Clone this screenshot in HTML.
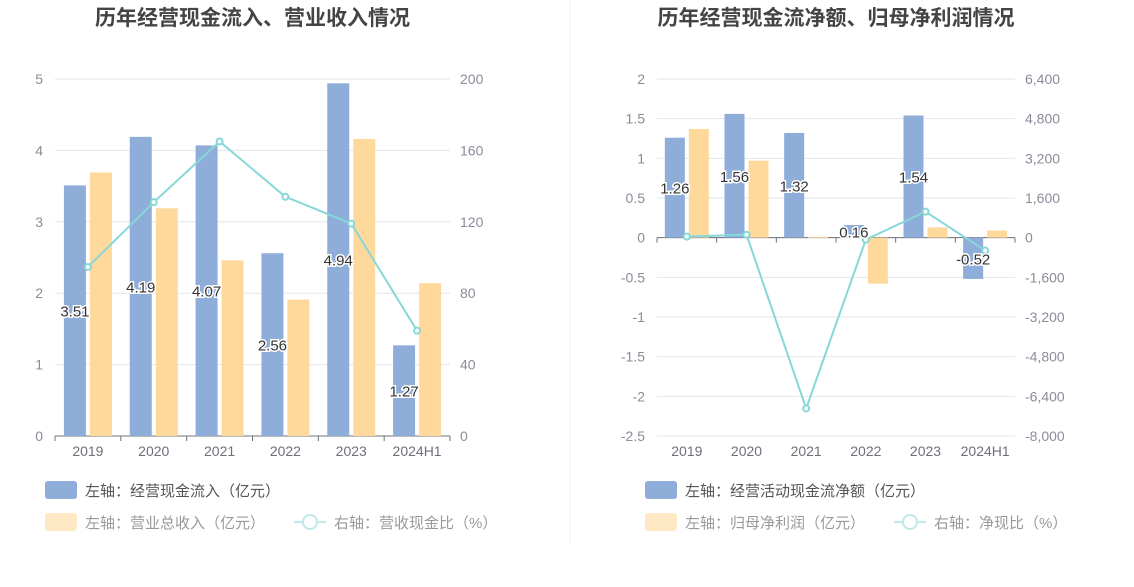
<!DOCTYPE html>
<html><head><meta charset="utf-8"><style>
body{margin:0;background:#fff;font-family:"Liberation Sans","Noto Sans CJK SC",sans-serif;}
svg text{font-family:"Liberation Sans","Noto Sans CJK SC",sans-serif;}
</style></head><body>
<svg id="c" width="1134" height="582" xmlns="http://www.w3.org/2000/svg">
<line x1="570" y1="0" x2="570" y2="545" stroke="#eef0f4" stroke-width="1"/>
</svg>
<script>
const categories=["2019","2020","2021","2022","2023","2024H1"];
const inflow=[3.51,4.19,4.07,2.56,4.94,1.27];
const revenue=[3.69,3.19,2.46,1.91,4.16,2.14];
const ratio1=[94.7,131,165,134,119,59];
const leftTicks1=["0","1","2","3","4","5"];
const rightTicks1=["0","40","80","120","160","200"];
const netflow=[1.26,1.56,1.32,0.16,1.54,-0.52];
const profit=[1.37,0.97,0.01,-0.58,0.13,0.09];
const ratio2=[40,120,-6890,-80,1050,-520];
const leftTicks2=["-2.5","-2","-1.5","-1","-0.5","0","0.5","1","1.5","2"];
const rightTicks2=["-8,000","-6,400","-4,800","-3,200","-1,600","0","1,600","3,200","4,800","6,400"];

const svg=document.getElementById('c');const NS='http://www.w3.org/2000/svg';
function mk(t,a,p){const e=document.createElementNS(NS,t);for(const k in a)e.setAttribute(k,a[k]);(p||svg).appendChild(e);return e;}
function txt(s,a){const e=mk('text',a);e.textContent=s;return e;}

function chart(o){
 const g=mk('g',{});
 
 
 const y=v=>o.y0+(v-o.lmin)/(o.lmax-o.lmin)*(o.y1-o.y0);
 const yr=v=>o.y0+(v-o.rmin)/(o.rmax-o.rmin)*(o.y1-o.y0);
 const bw=(o.x1-o.x0)/categories.length;
 const cx=i=>o.x0+bw*(i+0.5);
 const n=o.lt.length;
 for(let i=0;i<n;i++){
  const v=o.lmin+(o.lmax-o.lmin)*i/(n-1);const yy=y(v);
  const l=mk('line',{x1:o.x0,x2:o.x1,y1:yy,y2:yy,stroke:'#e3e6ef'},g);
  
  const t=txt(o.lt[i],{x:o.x0-12,y:yy+5,'text-anchor':'end','font-size':14,fill:'#8a8d99'});
  
  const t2=txt(o.rt[i],{x:o.x1+10,y:yy+5,'font-size':14,fill:'#8a8d99'});
  
 }
 const z=y(0);
 mk('line',{x1:o.x0,x2:o.x1,y1:z,y2:z,stroke:'#6e7079'},g);
 for(let i=0;i<=categories.length;i++){mk('line',{x1:o.x0+bw*i,x2:o.x0+bw*i,y1:z,y2:z+5,stroke:'#6e7079'},g);}
 categories.forEach((c,i)=>{
  const t=txt(c,{x:cx(i),y:o.y0+20,'text-anchor':'middle','font-size':14,fill:'#6e7079'});
  
  const a=o.b1[i],b=o.b2[i];
  const r1=mk('rect',{x:cx(i)-o.w-2,y:Math.min(y(a),z),width:o.w,height:Math.max(1,Math.abs(y(a)-z)),fill:'#8eadd9'},g);
  
  const r2=mk('rect',{x:cx(i)+2,y:Math.min(y(b),z),width:o.w,height:Math.max(1,Math.abs(y(b)-z)),fill:'#ffd99b'},g);
  
 });
 let d='';o.line.forEach((v,i)=>{d+=(i?'L':'M')+cx(i)+','+yr(v);});
 const p=mk('path',{d:d,fill:'none',stroke:'#86d8d8','stroke-width':2},g);
 
 o.line.forEach((v,i)=>{const c=mk('circle',{cx:cx(i),cy:yr(v),r:3,fill:'#fff',stroke:'#86d8d8','stroke-width':2},g);
  });
 o.b1.forEach((v,i)=>{
  const t=txt(String(v),{x:cx(i)-o.w/2-2,y:y(v/2)+6,'text-anchor':'middle','font-size':15,fill:'#333',stroke:'#fff','stroke-width':3,'paint-order':'stroke'});
  });
 const tt=txt(o.title,{x:(o.x0+o.x1)/2,y:25,'text-anchor':'middle','font-size':21,'font-weight':'bold',fill:'#444'});
 
 const L=o.legX;
 const a=mk('rect',{x:L,y:481,width:32,height:18,rx:3,fill:'#8eadd9'},g);
 const t1=txt(o.leg1,{x:L+40,y:496,'font-size':15,fill:'#555'});
 const b=mk('rect',{x:L,y:513,width:32,height:18,rx:3,fill:'#ffe9c4'},g);
 const t2=txt(o.leg2,{x:L+40,y:528,'font-size':15,fill:'#999'});
 const lx=o.leg3x;
 mk('line',{x1:lx,x2:lx+32,y1:522,y2:522,stroke:'#bde9ea','stroke-width':2},g);
 mk('circle',{cx:lx+16,cy:522,r:7,fill:'#fff',stroke:'#bde9ea','stroke-width':2},g);
 const t3=txt(o.leg3,{x:lx+40,y:528,'font-size':15,fill:'#999'});
}
chart({name:'cash-inflow-chart',title:'历年经营现金流入、营业收入情况',x0:55,x1:450,y0:436,y1:79,lmin:0,lmax:5,rmin:0,rmax:200,lt:leftTicks1,rt:rightTicks1,b1:inflow,b2:revenue,line:ratio1,w:22,s1:'inflow',s2:'revenue',legX:45,leg1:'左轴：经营现金流入（亿元）',leg2:'左轴：营业总收入（亿元）',leg3x:294,leg3:'右轴：营收现金比（%）'});
chart({name:'net-cash-chart',title:'历年经营现金流净额、归母净利润情况',x0:657,x1:1015,y0:436,y1:79,lmin:-2.5,lmax:2,rmin:-8000,rmax:6400,lt:leftTicks2,rt:rightTicks2,b1:netflow,b2:profit,line:ratio2,w:20,s1:'netflow',s2:'profit',legX:645,leg1:'左轴：经营活动现金流净额（亿元）',leg2:'左轴：归母净利润（亿元）',leg3x:894,leg3:'右轴：净现比（%）'});
</script>
</body></html>
